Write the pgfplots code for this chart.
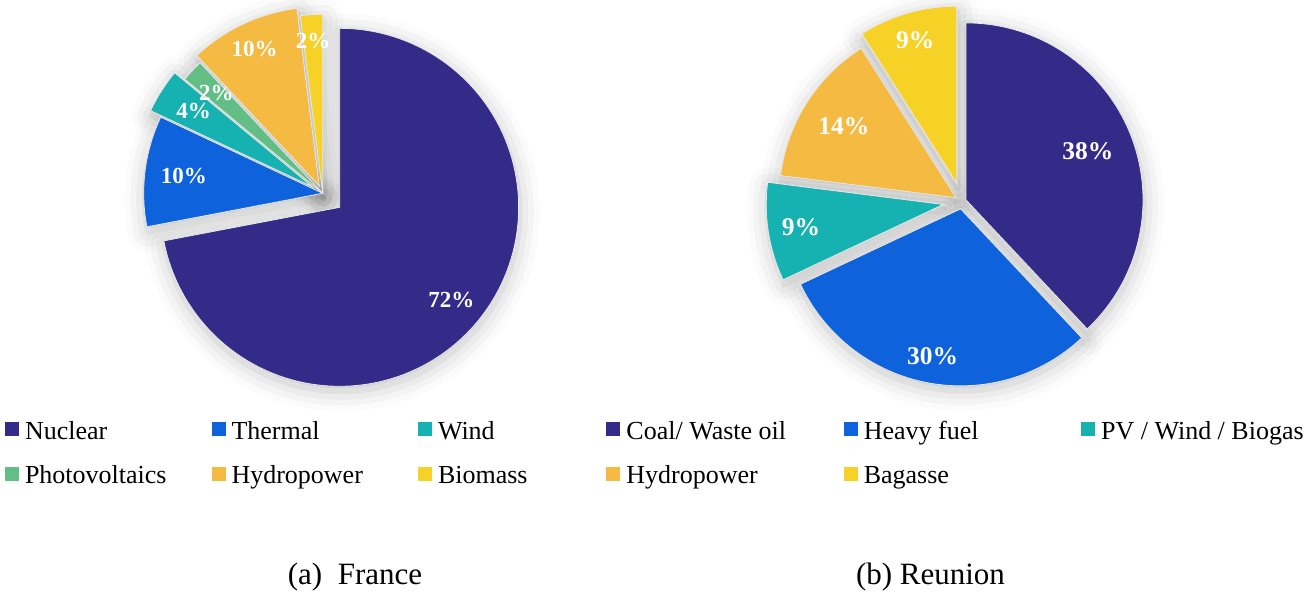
\documentclass[border=0pt]{standalone}
\usepackage{fontspec}
\setmainfont{Liberation Serif}
\usepackage{pgfplots}
\usepackage{pgfplotstable}
\pgfplotsset{compat=1.18}
\usetikzlibrary{shadows.blur}

\definecolor{cA}{RGB}{52,42,135}
\definecolor{cB}{RGB}{14,98,220}
\definecolor{cC}{RGB}{22,178,178}
\definecolor{cD}{RGB}{99,190,133}
\definecolor{cE}{RGB}{245,186,66}
\definecolor{cF}{RGB}{247,210,38}

\pgfplotstableread[col sep=comma]{
name,value,explode,labr,color
Nuclear,72,22,145,cA
Thermal,10,0,140,cB
Wind,4,12,141,cC
Photovoltaics,2,0,146,cD
Hydropower,10,8,152,cE
Biomass,2,0,153,cF
}\France

\pgfplotstableread[col sep=comma]{
name,value,explode,labr,color
Coal/ Waste oil,38,4.3,131,cA
Heavy fuel,30,7.5,150,cB
PV / Wind / Biogas,9,19,144,cC
Hydropower,14,7,133,cE
Bagasse,9,19,149,cF
}\Reunion

\newcommand\labsize{11.5}
\tikzset{lab/.style={text=white, font=\bfseries\fontsize{\labsize}{14}\selectfont, anchor=center, inner sep=0pt}}

\newlength\legw
\newcommand\legtext[1]{\raisebox{0pt}[10pt][3.5pt]{\makebox[\legw][l]{#1}}}

% #1 table, #2 Cx, #3 Cy, #4 R, #5 pass (0 = shadows, 1 = slices)
\newcommand\drawpie[5]{%
  \pgfplotstablegetrowsof{#1}%
  \pgfmathtruncatemacro\nrows{\pgfplotsretval-1}%
  \gdef\angA{90}%
  \pgfplotsforeachungrouped \i in {0,...,\nrows}{%
    \pgfplotstablegetelem{\i}{value}\of{#1}\let\val\pgfplotsretval
    \pgfplotstablegetelem{\i}{explode}\of{#1}\let\ex\pgfplotsretval
    \pgfplotstablegetelem{\i}{labr}\of{#1}\let\lr\pgfplotsretval
    \pgfplotstablegetelem{\i}{color}\of{#1}\let\col\pgfplotsretval
    \pgfplotstablegetelem{\i}{name}\of{#1}\let\nm\pgfplotsretval
    \pgfmathsetmacro\spn{3.6*\val}%
    \pgfmathsetmacro\angB{\angA-\spn}%
    \pgfmathsetmacro\angM{\angA-\spn/2}%
    \pgfmathsetmacro\cx{#2+\ex*cos(\angM)}%
    \pgfmathsetmacro\cy{#3+\ex*sin(\angM)}%
    \pgfmathsetmacro\lx{\cx+\lr*cos(\angM)}%
    \pgfmathsetmacro\ly{\cy+\lr*sin(\angM)}%
    \ifnum#5=0
      \edef\cmd{\noexpand\addplot[forget plot, draw=none, fill=none,
        blur shadow={shadow xshift=0.5pt, shadow yshift=-2.5pt, shadow blur radius=10pt, shadow opacity=24},
        domain=0:1, samples=120, variable=\noexpand\t]
        ({\cx+#4*cos(\angA-\spn*\noexpand\t)},{\cy+#4*sin(\angA-\spn*\noexpand\t)})
        -- (axis cs:\cx,\cy) -- cycle;}%
    \else
      \edef\cmd{\noexpand\addplot[fill=\col, draw=white!82!gray, line width=0.4pt,
        domain=0:1, samples=120, variable=\noexpand\t]
        ({\cx+#4*cos(\angA-\spn*\noexpand\t)},{\cy+#4*sin(\angA-\spn*\noexpand\t)})
        -- (axis cs:\cx,\cy) -- cycle;
        \noexpand\addlegendentry{\noexpand\legtext{\nm}}
        \noexpand\node[lab] at (axis cs:\lx,\ly) {\val\noexpand\%};}%
    \fi
    \cmd
    \global\let\angA\angB
  }%
}

\pgfplotsset{
  pieaxis/.style={
    width=653.5pt, height=296pt, scale only axis,
    xmin=0, xmax=1307, ymin=0, ymax=592,
    hide axis, clip=false, at={(0,0)}, anchor=south west,
    legend columns=3, legend cell align=left,
    legend image code/.code={\fill[##1, draw=none] (0pt,-2.75pt) rectangle (7pt,4.25pt);},
    legend style={anchor=north west, draw=none, fill=none,
      inner sep=0pt, outer sep=0pt, row sep=10.55pt, column sep=0pt,
      nodes={inner sep=0pt, outer sep=0pt},
      /tikz/every odd column/.append style={column sep=3pt},
      font=\fontsize{13}{15}\selectfont},
  }
}

\begin{document}
\begin{tikzpicture}
\begin{axis}[pieaxis, name=A, legend style={at={(0.003826,0.2914)}}]
\setlength\legw{93.25pt}
\renewcommand\labsize{11.5}
\drawpie{\France}{322.7}{398.7}{179}{0}
\drawpie{\France}{322.7}{398.7}{179}{1}
\node[anchor=base, font=\fontsize{15.5}{18}\selectfont] at (axis cs:355,7) {(a)~~France};
\end{axis}
\begin{axis}[pieaxis, legend style={at={(0.4640,0.2914)}}]
\setlength\legw{108.65pt}
\renewcommand\labsize{12.75}
\drawpie{\Reunion}{962}{390.5}{177}{0}
\drawpie{\Reunion}{962}{390.5}{177}{1}
\node[anchor=base, font=\fontsize{15.5}{18}\selectfont] at (axis cs:930.5,7) {(b) Reunion};
\end{axis}
\pgfresetboundingbox
\path (A.south west) rectangle (A.north east);
\end{tikzpicture}
\end{document}
